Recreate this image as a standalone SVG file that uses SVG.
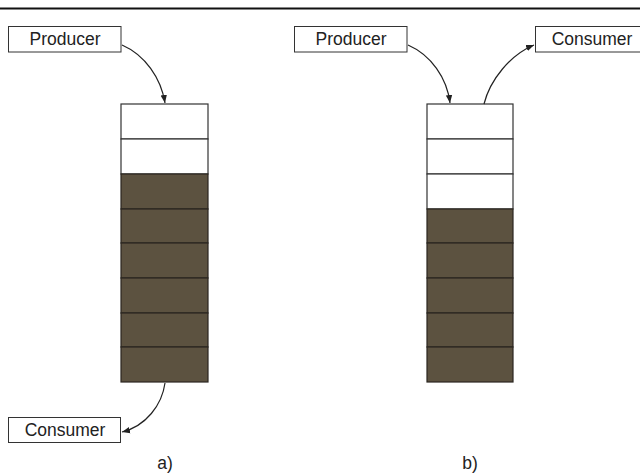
<svg xmlns="http://www.w3.org/2000/svg" width="640" height="474" viewBox="0 0 640 474">
<style>
.box{fill:#fff;stroke:#333;stroke-width:1}
.lbl{font-family:"Liberation Sans",Arial,sans-serif;font-size:17.5px;fill:#222;text-anchor:middle}
.cw{fill:#fff;stroke:#333;stroke-width:1.2}
.cf{fill:#5c5240;stroke:#2a2620;stroke-width:1.2}
.conn{fill:none;stroke:#222;stroke-width:1.2;marker-end:url(#ah)}
</style>
<defs>
<marker id="ah" viewBox="0 0 10 10" refX="10" refY="5" markerWidth="8" markerHeight="8" markerUnits="userSpaceOnUse" orient="auto">
<path d="M0,1 L10,5 L0,9 z" fill="#222"/>
</marker>
</defs>
<rect x="0" y="7.5" width="640" height="2" fill="#111"/>
<g id="producer-a"><rect class="box" x="8.5" y="26.5" width="112.5" height="25.5"/><text class="lbl" x="65" y="45">Producer</text></g>
<g id="consumer-a"><rect class="box" x="8.5" y="417.5" width="112" height="25"/><text class="lbl" x="65" y="436">Consumer</text></g>
<g id="buffer-a">
<rect class="cw" x="121" y="104" width="87" height="35"/>
<rect class="cw" x="121" y="139" width="87" height="35"/>
<rect class="cf" x="121" y="174" width="87" height="35"/>
<rect class="cf" x="121" y="209" width="87" height="34"/>
<rect class="cf" x="121" y="243" width="87" height="35"/>
<rect class="cf" x="121" y="278" width="87" height="35"/>
<rect class="cf" x="121" y="313" width="87" height="34"/>
<rect class="cf" x="121" y="347" width="87" height="35"/>
</g>
<g id="label-a"><text class="lbl" x="165" y="469">a)</text></g>
<g id="producer-b"><rect class="box" x="294.5" y="26.5" width="112.5" height="25.5"/><text class="lbl" x="351" y="45">Producer</text></g>
<g id="consumer-b"><rect class="box" x="535.5" y="26.5" width="110" height="25.5"/><text class="lbl" x="592" y="45">Consumer</text></g>
<g id="buffer-b">
<rect class="cw" x="427" y="104" width="86" height="35"/>
<rect class="cw" x="427" y="139" width="86" height="35"/>
<rect class="cw" x="427" y="174" width="86" height="35"/>
<rect class="cf" x="427" y="209" width="86" height="34"/>
<rect class="cf" x="427" y="243" width="86" height="35"/>
<rect class="cf" x="427" y="278" width="86" height="35"/>
<rect class="cf" x="427" y="313" width="86" height="34"/>
<rect class="cf" x="427" y="347" width="86" height="35"/>
</g>
<g id="label-b"><text class="lbl" x="470" y="469">b)</text></g>
<g id="connectors">
<path class="conn" d="M122,45 C145,55 161,78 165,103"/>
<path class="conn" d="M408,45 C431,55 447,78 450,103"/>
<path class="conn" d="M484,104 C490,80 510,55 534,45"/>
<path class="conn" d="M165,383 C162,405 146,426 122,432"/>
</g>
</svg>
